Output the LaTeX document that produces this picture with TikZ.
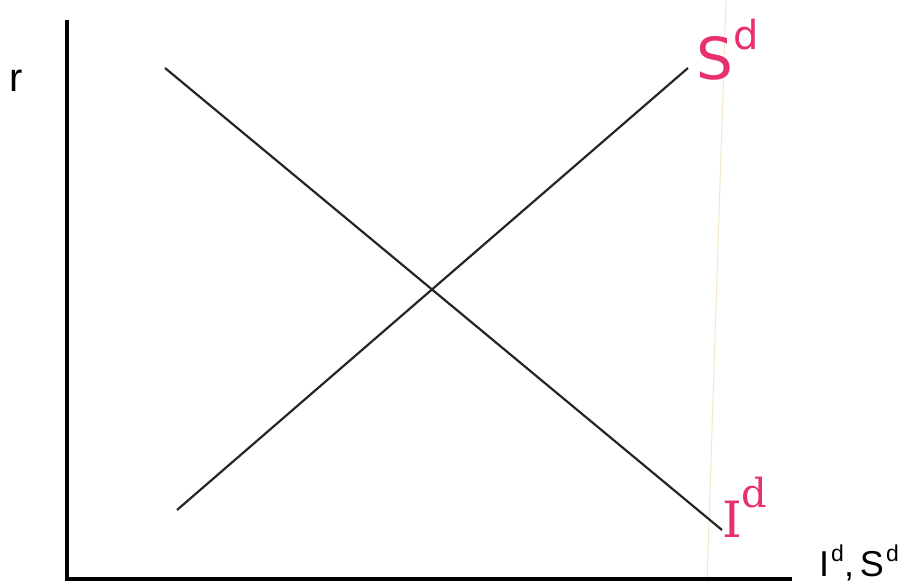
\documentclass[tikz,border=0pt]{standalone}
\usepackage{fontspec}
\setmainfont{Liberation Sans}
\newfontfamily\handfont{DejaVu Sans}
\newfontfamily\handserif{DejaVu Serif}
\usetikzlibrary{positioning}
\definecolor{inkpink}{RGB}{232,48,110}
\definecolor{scanline}{RGB}{245,232,200}
\newcommand{\supd}{\hspace{2pt}\raisebox{15pt}{\fontsize{23}{23}\selectfont d}}
\newcommand{\handd}{\raisebox{30pt}{\fontsize{40}{40}\selectfont d}}

\begin{document}
\begin{tikzpicture}[x=1pt,y=-1pt]
\tikzset{
  axis/.style={line width=3.2pt},
  curve/.style={line width=2.2pt,color=black!85},
  axislabel/.style={anchor=base west,inner sep=0pt,font=\fontsize{36}{40}\selectfont},
  handlabel/.style={anchor=base west,inner sep=0pt,color=inkpink}
}
\useasboundingbox (0,0) rectangle (902,583);
% faint fold in the paper
\draw[scanline,line width=1pt] (726,0) -- (707,583);
% axes
\coordinate (o) at (67,579);
\coordinate (ytop) at (67,20);
\coordinate (xend) at (792,579);
\draw[axis] (ytop) -- (o) -- (xend);
\node[axislabel,font=\fontsize{40}{44}\selectfont] (r) at (9,92) {r};
\node[axislabel] (q) at (819,576) {I\supd,\hspace{6pt}S\supd};
% investment and saving curves
\coordinate (i0) at (165,68);
\coordinate (i1) at (722,530);
\coordinate (s0) at (177,510);
\coordinate (s1) at (688,68);
\draw[curve] (i0) -- (i1);
\draw[curve] (s0) -- (s1);
\node[handlabel,font=\handfont\fontsize{58}{60}\selectfont] (sd) at (696,80) {S\handd};
\node[handlabel,font=\handserif\fontsize{50}{54}\selectfont] (id) at (722,537) {I\handd};
\end{tikzpicture}
\end{document}
